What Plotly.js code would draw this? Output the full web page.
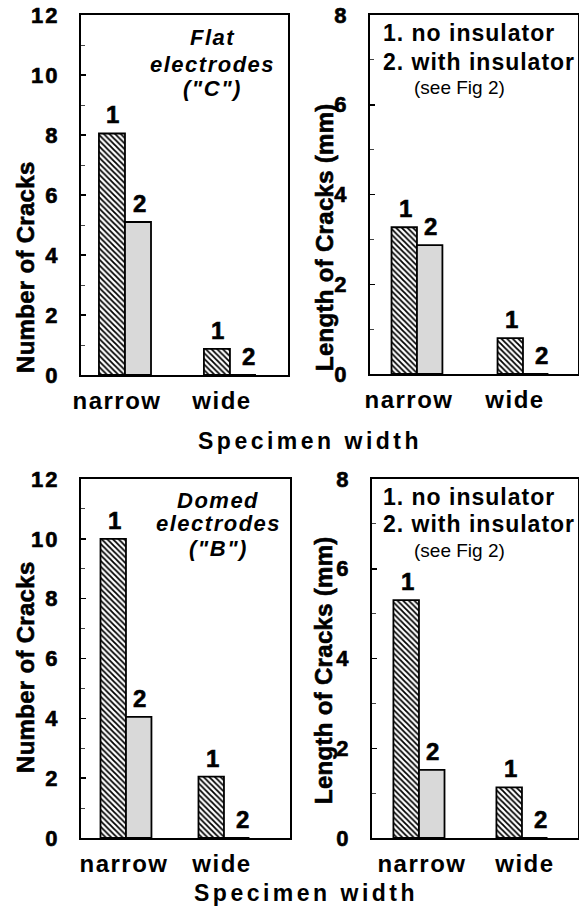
<!DOCTYPE html>
<html><head><meta charset="utf-8">
<script src="https://cdn.plot.ly/plotly-3.0.1.min.js"></script>
<style>
html,body{margin:0;padding:0;background:#fff;}
#chart{width:579px;height:909px;}
#chart .ytick text, #chart .y2tick text, #chart .y3tick text, #chart .y4tick text{stroke:#000;stroke-width:0.6px;}
</style></head><body><div id="chart"></div>
<script>
// ---- data ----
const categories = ['narrow', 'wide'];
const seriesLabels = ['1', '2'];
const flatCountNoIns = [8.05, 0.87];
const flatCountIns = [5.1, 0];
const flatLengthNoIns = [3.27, 0.8];
const flatLengthIns = [2.87, 0];
const domedCountNoIns = [10.0, 2.05];
const domedCountIns = [4.05, 0];
const domedLengthNoIns = [5.3, 1.13];
const domedLengthIns = [1.52, 0];
const countTicks = [0, 2, 4, 6, 8, 10, 12];
const lengthTicks = [0, 2, 4, 6, 8];
const xTitle = 'Specimen width';
const countTitle = 'Number of Cracks';
const lengthTitle = 'Length of Cracks (mm)';
const legendLines = ['1. no insulator', '2. with insulator', '(see Fig 2)'];
const flatLines = ['Flat', 'electrodes', '("C")'];
const domedLines = ['Domed', 'electrodes', '("B")'];

// ---- layout helpers ----
const W = 579, H = 909;
const px = x => x / W, py = y => 1 - y / H;
const FONT = 'Liberation Sans, Arial, sans-serif';
// bold text with letter spacing
const BS = (t, s) => '<span style="font-weight:bold;letter-spacing:' + s + 'px">' + t + '</span>';
const BSK = (t, s) => '<span style="font-weight:bold;stroke:#000;stroke-width:0.6px;letter-spacing:' + s + 'px">' + t + '</span>';

const panels = [
  {ax: '', L: 81, R: 288, T: 15, B: 375, range: [-0.343, 1.629], bw: 0.248, shift: 0.076,
   ymax: 12, ticks: countTicks, s1: flatCountNoIns, s2: flatCountIns, ytitle: countTitle, tx: 25, ty: 267},
  {ax: '2', L: 370, R: 578, T: 15, B: 374, range: [-0.368, 1.594], bw: 0.24, shift: 0.075,
   ymax: 8, ticks: lengthTicks, s1: flatLengthNoIns, s2: flatLengthIns, ytitle: lengthTitle, tx: 325, ty: 237},
  {ax: '3', L: 81, R: 290, T: 479, B: 838, range: [-0.439, 1.694], bw: 0.26, shift: 0.02,
   ymax: 12, ticks: countTicks, s1: domedCountNoIns, s2: domedCountIns, ytitle: countTitle, tx: 25, ty: 667},
  {ax: '4', L: 372, R: 578, T: 479, B: 838, range: [-0.485, 1.515], bw: 0.248, shift: -0.029,
   ymax: 8, ticks: lengthTicks, s1: domedLengthNoIns, s2: domedLengthIns, ytitle: lengthTitle, tx: 323, ty: 670}
];

const traces = [];
const annotations = [];
const layout = {
  width: W, height: H,
  margin: {l: 0, r: 0, t: 0, b: 0},
  paper_bgcolor: '#fff', plot_bgcolor: '#fff',
  showlegend: false,
  barmode: 'overlay',
  font: {family: FONT, color: '#000'},
  annotations: annotations
};

panels.forEach(p => {
  const xa = 'x' + p.ax, ya = 'y' + p.ax;
  traces.push({
    type: 'bar', x: categories, y: p.s1, xaxis: xa, yaxis: ya,
    width: p.bw, offset: p.shift - p.bw,
    marker: {color: '#fff', line: {color: '#000', width: 1.8},
      pattern: {shape: '\\', fgcolor: '#000', bgcolor: '#fff', size: 4, solidity: 0.45}},
    hoverinfo: 'skip'
  });
  traces.push({
    type: 'bar', x: categories, y: p.s2, xaxis: xa, yaxis: ya,
    width: p.bw, offset: p.shift,
    marker: {color: '#d9d9d9', line: {color: '#000', width: 1.8}},
    hoverinfo: 'skip'
  });
  layout['xaxis' + p.ax] = {
    domain: [px(p.L), px(p.R)], anchor: ya, type: 'category', range: p.range,
    tickmode: 'array', tickvals: categories, ticktext: categories.map(c => BS(c, 1.5)),
    showline: true, mirror: true, linewidth: 2, linecolor: '#000',
    ticks: '', showgrid: false, zeroline: false,
    tickfont: {family: FONT, size: 24, color: '#000'},
    ticklabelstandoff: 3, fixedrange: true
  };
  layout['yaxis' + p.ax] = {
    domain: [py(p.B), py(p.T)], anchor: xa, range: [0, p.ymax],
    tickmode: 'array', tickvals: p.ticks, ticktext: p.ticks.map(t => BS(String(t), 2)),
    ticks: 'inside', ticklen: 5, tickwidth: 1.5, tickcolor: '#000',
    minor: {tickmode: 'linear', tick0: 0, dtick: 1, ticks: 'inside', ticklen: 4, tickwidth: 1, tickcolor: '#444'},
    showline: true, mirror: true, linewidth: 2, linecolor: '#000',
    showgrid: false, zeroline: false,
    tickfont: {family: FONT, size: 22, color: '#000'},
    ticklabelstandoff: 15, fixedrange: true
  };
  // series number labels above bars
  [p.s1, p.s2].forEach((series, k) => {
    series.forEach((v, i) => {
      const xc = i + p.shift + (k === 0 ? -p.bw / 2 : p.bw / 2);
      annotations.push({
        xref: xa, yref: ya, x: xc, y: v, text: BSK(seriesLabels[k], 0),
        showarrow: false, xanchor: 'center', yanchor: 'bottom',
        yshift: 3, xshift: v === 0 ? 6 : 1,
        font: {family: FONT, size: 24, color: '#000'}
      });
    });
  });
  // y-axis title
  annotations.push({
    xref: 'paper', yref: 'paper', x: px(p.tx), y: py(p.ty), textangle: -90,
    text: BSK(p.ytitle, 0.3), showarrow: false, xanchor: 'center', yanchor: 'middle',
    font: {family: FONT, size: 24, color: '#000'}
  });
});

// panel description texts
function addLine(text, x, y, opts) {
  annotations.push(Object.assign({
    xref: 'paper', yref: 'paper', x: px(x), y: py(y), text: text,
    showarrow: false, xanchor: 'center', yanchor: 'middle'
  }, opts));
}
const italicFont = {family: FONT, size: 22, color: '#000'};
const flatY = [37, 64, 88], domedY = [500, 523, 548];
flatLines.forEach((t, i) => addLine('<i>' + BS(t, 1.5) + '</i>', 213, flatY[i], {font: italicFont}));
domedLines.forEach((t, i) => addLine('<i>' + BS(t, 1.5) + '</i>', 218, domedY[i], {font: italicFont}));

const legFont = {family: FONT, size: 23, color: '#000'};
const regLeg = {family: FONT, size: 19, color: '#000'};
[[15, [33, 62, 87]], [479, [497, 524, 550]]].forEach(([top, ys]) => {
  addLine(BS(legendLines[0], 1), 381, ys[0], {font: legFont, xanchor: 'left'});
  addLine(BS(legendLines[1], 1), 381, ys[1], {font: legFont, xanchor: 'left'});
  addLine(legendLines[2], 459, ys[2], {font: regLeg});
});

// shared x-axis titles
const xtFont = {family: FONT, size: 23, color: '#000'};
addLine(BS(xTitle, 3.5), 310, 441, {font: xtFont});
addLine(BS(xTitle, 3.5), 306, 893, {font: xtFont});

Plotly.newPlot('chart', traces, layout, {staticPlot: true, displayModeBar: false});
</script>
</body></html>
